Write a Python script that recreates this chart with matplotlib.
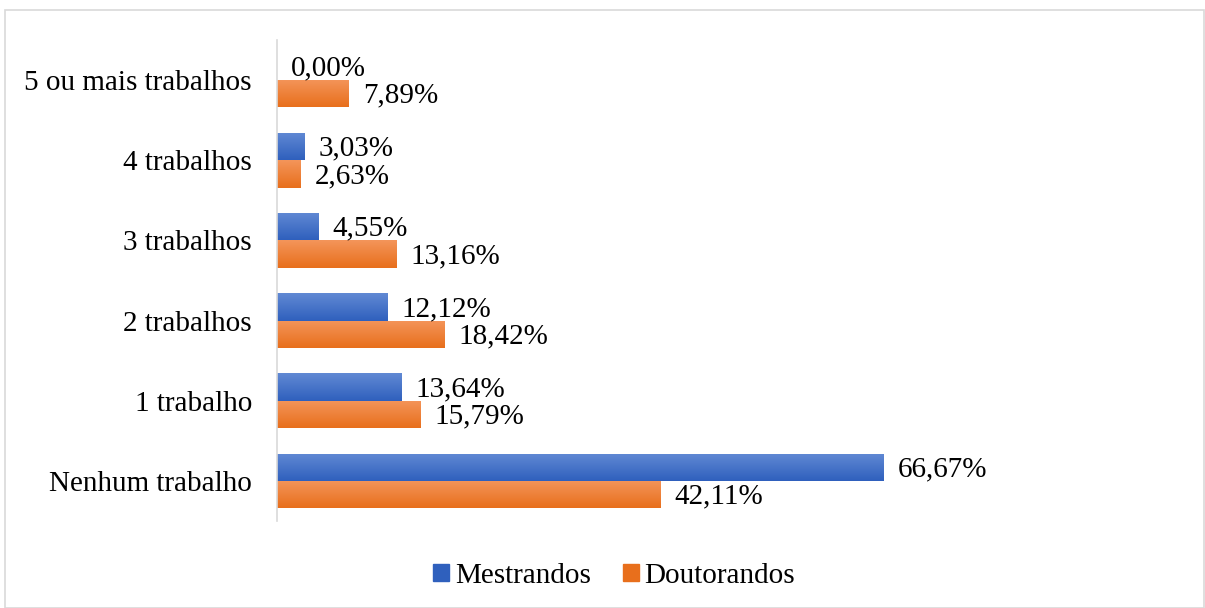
import numpy as np
import matplotlib.pyplot as plt
from matplotlib.colors import LinearSegmentedColormap
from matplotlib.patches import Rectangle

categories = ['Nenhum trabalho', '1 trabalho', '2 trabalhos', '3 trabalhos',
              '4 trabalhos', '5 ou mais trabalhos']
mestrandos = [66.67, 13.64, 12.12, 4.55, 3.03, 0.00]
doutorandos = [42.11, 15.79, 18.42, 13.16, 2.63, 7.89]
series_names = ['Mestrandos', 'Doutorandos']

plt.rcParams['font.family'] = ['Liberation Serif', 'DejaVu Serif']

blue_top, blue_bot = '#6189d4', '#2f60bd'
orange_top, orange_bot = '#f4955a', '#e86f1c'


def gradient_bars(ax, bars, top, bot):
    cmap = LinearSegmentedColormap.from_list('g', [bot, top])
    grad = np.linspace(0, 1, 64).reshape(-1, 1)
    for b in bars:
        x0, y0 = b.get_x(), b.get_y()
        w, h = b.get_width(), b.get_height()
        if w <= 0:
            continue
        b.set_facecolor('none')
        im = ax.imshow(grad, cmap=cmap, aspect='auto', origin='lower',
                       extent=(x0, x0 + w, y0, y0 + h), zorder=2,
                       interpolation='bilinear')
        im.set_clip_path(b)


fig = plt.figure(figsize=(12.05, 6.08), dpi=100)
ax = fig.add_axes([277 / 1205, (608 - 521) / 608, (1187 - 277) / 1205, 481 / 608])

y = np.arange(len(categories))
h = 0.34
b1 = ax.barh(y + h / 2, mestrandos, height=h, color=blue_bot, edgecolor='none', zorder=2)
b2 = ax.barh(y - h / 2, doutorandos, height=h, color=orange_bot, edgecolor='none', zorder=2)
gradient_bars(ax, b1, blue_top, blue_bot)
gradient_bars(ax, b2, orange_top, orange_bot)

fs = 21
for bars, vals in ((b1, mestrandos), (b2, doutorandos)):
    for b, v in zip(bars, vals):
        ax.annotate(f'{v:.2f}%'.replace('.', ','),
                    (b.get_width(), b.get_y() + b.get_height() / 2),
                    xytext=(10, -1.5), textcoords='offset points',
                    ha='left', va='center', fontsize=fs, zorder=3)

ax.set_xlim(0, 100)
ax.set_ylim(-0.5, len(categories) - 0.5)
ax.set_yticks(y)
ax.set_yticklabels(categories, fontsize=fs)
ax.tick_params(axis='y', length=0, pad=18)
ax.set_xticks([])
for s in ('top', 'right', 'bottom'):
    ax.spines[s].set_visible(False)
ax.spines['left'].set_color('#d9d9d9')
ax.spines['left'].set_linewidth(1.2)

handles = [Rectangle((0, 0), 1, 1, color=blue_bot), Rectangle((0, 0), 1, 1, color=orange_bot)]
fig.legend(handles, series_names, loc='center', bbox_to_anchor=(614 / 1205, 1 - 576 / 608),
           ncol=2, frameon=False, fontsize=fs, handlelength=0.55, handleheight=0.55,
           handletextpad=0.2, columnspacing=1.1)

fig.add_artist(Rectangle((5 / 1205, 0), 1199 / 1205, 1 - 10 / 608,
                         transform=fig.transFigure, fill=False,
                         edgecolor='#d9d9d9', linewidth=1.2))

fig.savefig('out.png', dpi=100)
